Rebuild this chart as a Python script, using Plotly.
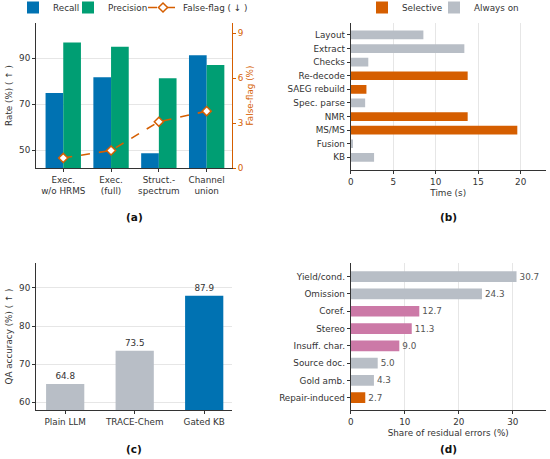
import plotly.graph_objects as go

# ---------- data ----------
a_cats = ["Exec.<br>w/o HRMS", "Exec.<br>(full)", "Struct.-<br>spectrum", "Channel<br>union"]
a_recall = [74.8, 81.7, 48.6, 91.3]
a_precision = [96.8, 95.0, 81.3, 87.0]
a_falseflag = [0.67, 1.17, 3.09, 3.8]

b_cats = ["Layout", "Extract", "Checks", "Re-decode", "SAEG rebuild", "Spec. parse",
          "NMR", "MS/MS", "Fusion", "KB"]
b_times = [8.55, 13.37, 2.07, 13.76, 1.85, 1.7, 13.76, 19.6, 0.27, 2.75]
b_kind = ["Always on", "Always on", "Always on", "Selective", "Selective", "Always on",
          "Selective", "Selective", "Always on", "Always on"]

c_cats = ["Plain LLM", "TRACE-Chem", "Gated KB"]
c_acc = [64.8, 73.5, 87.9]
c_labels = ["64.8", "73.5", "87.9"]

d_cats = ["Yield/cond.", "Omission", "Coref.", "Stereo", "Insuff. char.", "Source doc.",
          "Gold amb.", "Repair-induced"]
d_share = [30.7, 24.3, 12.7, 11.3, 9.0, 5.0, 4.3, 2.7]
d_labels = ["30.7", "24.3", "12.7", "11.3", "9.0", "5.0", "4.3", "2.7"]
d_group = ["gray", "gray", "pink", "pink", "pink", "gray", "gray", "orange"]

# ---------- styles ----------
BLUE = "#0072B2"
GREEN = "#009E73"
ORANGE = "#D55E00"
GRAY = "#B8BEC6"
PINK = "#CC79A7"
FONT = "DejaVu Sans"
DARK = "#333333"
GRID = "#E6E6E6"
FS = 8.8
group_colors = {"gray": GRAY, "pink": PINK, "orange": ORANGE}
kind_colors = {"Selective": ORANGE, "Always on": GRAY}

W, H = 550, 459
def px_x(a, b):
    return [a / W, b / W]
def px_y(top, bottom):
    return [1 - bottom / H, 1 - top / H]

fig = go.Figure()

# ---------- (a) ----------
fig.add_trace(go.Bar(x=a_cats, y=a_recall, name="Recall", marker=dict(color=BLUE, line=dict(width=0)),
                     width=0.37, offset=-0.37, xaxis="x", yaxis="y", legend="legend"))
fig.add_trace(go.Bar(x=a_cats, y=a_precision, name="Precision", marker=dict(color=GREEN, line=dict(width=0)),
                     width=0.37, offset=0.0, xaxis="x", yaxis="y", legend="legend3"))
fig.add_trace(go.Scatter(x=a_cats, y=a_falseflag, name="False-flag ( ↓ )", mode="lines+markers",
                         line=dict(color=ORANGE, width=1.6, dash="dash"),
                         marker=dict(symbol="diamond", size=7, color="white",
                                     line=dict(color=ORANGE, width=1.5)),
                         xaxis="x", yaxis="y5", legend="legend4"))

# ---------- (b) ----------
for kind, leg in [("Selective", "legend2"), ("Always on", "legend5")]:
    ys = [c for c, k in zip(b_cats, b_kind) if k == kind]
    xs = [v for v, k in zip(b_times, b_kind) if k == kind]
    fig.add_trace(go.Bar(x=xs, y=ys, orientation="h", name=kind,
                         marker=dict(color=kind_colors[kind], line=dict(width=0)),
                         width=0.64, offset=-0.32, xaxis="x2", yaxis="y2", legend=leg))

# ---------- (c) ----------
fig.add_trace(go.Bar(x=c_cats, y=c_acc, marker=dict(color=[GRAY, GRAY, BLUE], line=dict(width=0)),
                     width=0.55, offset=-0.275, text=c_labels, textposition="outside",
                     textfont=dict(size=FS, color=DARK), cliponaxis=False,
                     showlegend=False, xaxis="x3", yaxis="y3"))

# ---------- (d) ----------
fig.add_trace(go.Bar(x=d_share, y=d_cats, orientation="h",
                     marker=dict(color=[group_colors[g] for g in d_group], line=dict(width=0)),
                     width=0.62, offset=-0.31, text=d_labels, textposition="outside",
                     textfont=dict(size=FS, color="#555555"), cliponaxis=False,
                     showlegend=False, xaxis="x4", yaxis="y4"))

axis_common = dict(showline=True, linecolor=DARK, linewidth=1, ticks="outside", ticklen=3,
                   tickcolor=DARK, tickfont=dict(size=FS, color=DARK), zeroline=False,
                   title_font=dict(size=FS, color=DARK), automargin=False)

def leg(xleft):
    return dict(orientation="h", x=xleft / W, xanchor="left", y=1 - 7.5 / H, yanchor="middle",
                font=dict(size=FS, color=DARK), bgcolor="rgba(0,0,0,0)", borderwidth=0)

fig.update_layout(
    template="none",
    width=W, height=H, margin=dict(l=0, r=0, t=0, b=0, autoexpand=False),
    paper_bgcolor="white", plot_bgcolor="white",
    font=dict(family=FONT, color=DARK, size=FS),
    barmode="overlay",
    xaxis=dict(domain=px_x(36, 232), range=[-0.57, 3.53], showgrid=False, anchor="y", **axis_common),
    yaxis=dict(domain=px_y(23, 168), range=[42.2, 105.3], tickvals=[50, 70, 90], showgrid=True,
               gridcolor=GRID, title_text="Rate (%) ( ↑ )", anchor="x", title_standoff=4, **axis_common),
    yaxis5=dict(overlaying="y", side="right", anchor="x", range=[0, 9.69], tickvals=[0, 3, 6, 9],
                showgrid=False, showline=True, linecolor=ORANGE, linewidth=1, ticks="outside",
                ticklen=3, tickcolor=ORANGE, tickfont=dict(size=FS, color=ORANGE), zeroline=False,
                title_text="False-flag (%)", title_font=dict(size=FS, color=ORANGE), title_standoff=4,
                automargin=False),
    xaxis2=dict(domain=px_x(350.7, 545.7), range=[0, 22.94], tickvals=[0, 5, 10, 15, 20], showgrid=True,
                gridcolor=GRID, title_text="Time (s)", anchor="y2", title_standoff=4, **axis_common),
    yaxis2=dict(domain=px_y(23, 170), type="category", categoryorder="array", categoryarray=b_cats,
                range=[9.93, -0.88], showgrid=False, anchor="x2", **axis_common),
    xaxis3=dict(domain=px_x(36, 232), range=[-0.42, 2.4], showgrid=False, anchor="y3", **axis_common),
    yaxis3=dict(domain=px_y(263, 410), range=[58.0, 96.5], tickvals=[60, 70, 80, 90], showgrid=True,
                gridcolor=GRID, title_text="QA accuracy (%) ( ↑ )", anchor="x3", title_standoff=4,
                **axis_common),
    xaxis4=dict(domain=px_x(350.7, 545.7), range=[0, 36.1], tickvals=[0, 10, 20, 30], showgrid=True,
                gridcolor=GRID, title_text="Share of residual errors (%)", anchor="y4", title_standoff=4,
                **axis_common),
    yaxis4=dict(domain=px_y(263, 410), type="category", categoryorder="array", categoryarray=d_cats,
                range=[7.71, -0.79], showgrid=False, anchor="x4", **axis_common),
    legend=leg(13),
    legend3=leg(68),
    legend4=leg(143),
    legend2=leg(362),
    legend5=leg(434),
)

for lab, xc, yc in [("(a)", 134, 217), ("(b)", 448, 217), ("(c)", 134, 449), ("(d)", 448, 449)]:
    fig.add_annotation(text="<b>%s</b>" % lab, x=xc / W, y=1 - yc / H, xref="paper", yref="paper",
                       showarrow=False, font=dict(size=10.5, color="#111111"), xanchor="center",
                       yanchor="middle")

fig.write_html("out.html", config={"displayModeBar": False},
               post_script="document.body.style.margin='0';document.body.style.padding='0';"
                           "document.body.style.overflow='hidden';")
